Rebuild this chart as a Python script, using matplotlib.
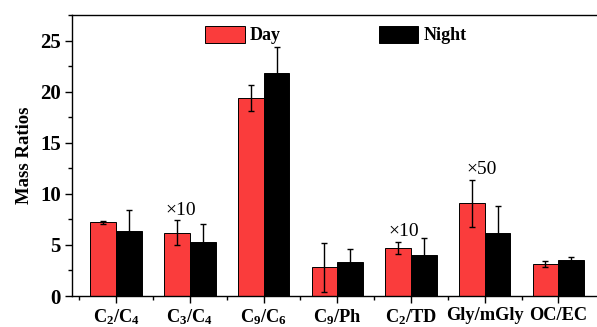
import numpy as np
import matplotlib
matplotlib.use("Agg")
import matplotlib.pyplot as plt
from matplotlib.ticker import MultipleLocator

plt.rcParams['font.family'] = ['Liberation Serif', 'DejaVu Serif']
plt.rcParams['font.weight'] = 'bold'
plt.rcParams['mathtext.fontset'] = 'custom'
plt.rcParams['mathtext.rm'] = 'Liberation Serif:bold'
plt.rcParams['mathtext.it'] = 'Liberation Serif:bold'
plt.rcParams['mathtext.bf'] = 'Liberation Serif:bold'

# ===== Data =====
categories = ['C$_2$/C$_4$', 'C$_3$/C$_4$', 'C$_9$/C$_6$', 'C$_9$/Ph',
              'C$_2$/TD', 'Gly/mGly', 'OC/EC']
day = [7.2, 6.2, 19.4, 2.8, 4.7, 9.1, 3.1]
day_err = [0.15, 1.2, 1.25, 2.4, 0.55, 2.3, 0.3]
night = [6.4, 5.3, 21.8, 3.3, 4.05, 6.15, 3.5]
night_err = [2.05, 1.7, 2.6, 1.3, 1.6, 2.7, 0.3]

# multiplier notes: (group index, text)
notes = [(1, '×10'), (4, '×10'), (5, '×50')]

# ===== Plot =====
fig = plt.figure(figsize=(5.97, 3.27), dpi=100)
ax = fig.add_axes([72 / 597, 31 / 327, 530.6 / 597, 281 / 327])

x = np.arange(1, len(categories) + 1)
w = 0.35
ax.bar(x - w / 2, day, w, color='#FA3C3C', edgecolor='black', linewidth=0.7,
       yerr=day_err, error_kw=dict(ecolor='black', elinewidth=1, capsize=2.5, capthick=1),
       label='Day')
ax.bar(x + w / 2, night, w, color='black', edgecolor='black', linewidth=0.7,
       yerr=night_err, error_kw=dict(ecolor='black', elinewidth=1, capsize=2.5, capthick=1),
       label='Night')

note_pos = {1: (1.88, 8.4), 4: (4.9, 6.3), 5: (5.96, 12.35)}
for i, txt in notes:
    px, py = note_pos[i]
    ax.text(px, py, txt, ha='center', va='center', fontsize=14, fontweight='normal')

ax.set_xlim(0.4, 7.6)
ax.set_ylim(0, 27.5)
ax.set_xticks(x)
ax.set_xticklabels(categories, fontsize=13.2, fontweight='bold')
ax.set_xticks(x - 0.5, minor=True)
ax.yaxis.set_major_locator(MultipleLocator(5))
ax.yaxis.set_minor_locator(MultipleLocator(2.5))
ax.tick_params(axis='both', which='major', direction='out', length=5, width=1)
ax.tick_params(axis='both', which='minor', direction='out', length=3, width=1)
ax.tick_params(axis='x', pad=3)
ax.tick_params(axis='y', labelsize=15, pad=3)
for lab in ax.get_yticklabels():
    lab.set_fontweight('bold')
ax.set_ylabel('Mass Ratios', fontsize=13.5, fontweight='bold', labelpad=5)

for s in ax.spines.values():
    s.set_linewidth(1.0)

ax.legend(loc='upper left', bbox_to_anchor=(0.23, 1.0), ncol=2, frameon=False,
          fontsize=13, handlelength=2.2, handleheight=1.05, handletextpad=0.3,
          columnspacing=5.4, borderaxespad=0.2)

fig.savefig('out.png', dpi=100)
